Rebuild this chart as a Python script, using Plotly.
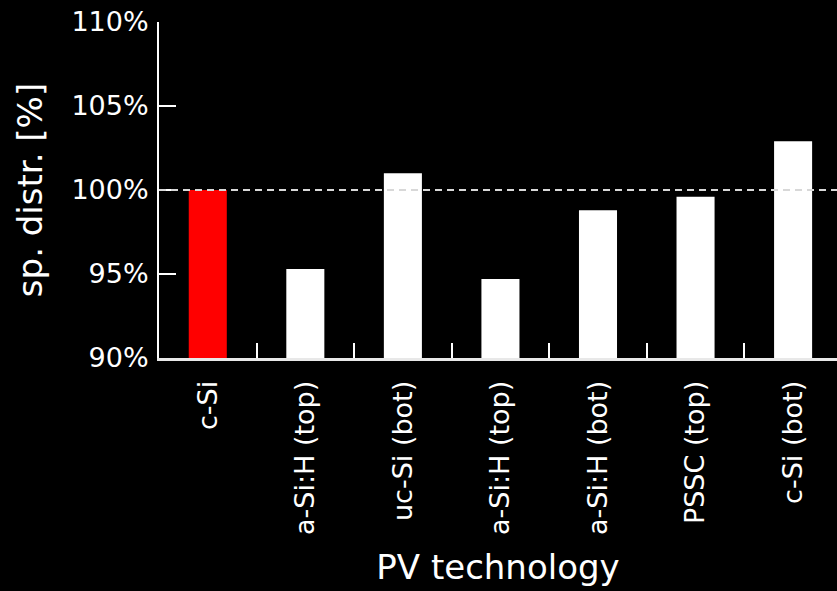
import plotly.graph_objects as go

categories = ["c-Si", "a-Si:H (top)", "uc-Si (bot)", "a-Si:H (top)", "a-Si:H (bot)", "PSSC (top)", "c-Si (bot)"]
cat_ids = ["c0", "c1", "c2", "c3", "c4", "c5", "c6"]
values = [100.0, 95.3, 101.0, 94.7, 98.8, 99.6, 102.9]
colors = ["#ff0000", "#ffffff", "#ffffff", "#ffffff", "#ffffff", "#ffffff", "#ffffff"]
ytick_vals = [90, 95, 100, 105, 110]
ytick_text = ["90%", "95%", "100%", "105%", "110%"]
reference_level = 100

FONT = "DejaVu Sans"

fig = go.Figure()
fig.add_trace(go.Bar(
    x=cat_ids, y=values,
    marker=dict(color=colors, line=dict(width=0)),
    width=0.39,
    showlegend=False,
    hoverinfo="skip",
))

fig.add_shape(type="line", xref="paper", yref="y", x0=0, x1=1,
              y0=reference_level, y1=reference_level,
              line=dict(color="#d8d8d8", width=2, dash="7px,5px"), layer="above")

fig.update_layout(
    width=837, height=591,
    paper_bgcolor="black", plot_bgcolor="black",
    margin=dict(l=159, r=0, t=22, b=233),
    font=dict(family=FONT, color="white"),
    bargap=0.6,
)

fig.update_xaxes(
    type="category",
    tickmode="array", tickvals=cat_ids, ticktext=categories,
    range=[-0.5, 6.45],
    tickson="boundaries",
    ticks="inside", ticklen=15, tickwidth=2, tickcolor="white",
    tickangle=-90,
    tickfont=dict(size=27, color="white", family=FONT),
    ticklabelstandoff=9,
    showline=True, linecolor="#e8e8e8", linewidth=3,
    showgrid=False, zeroline=False,
    title=dict(text="PV technology", font=dict(size=34, color="white", family=FONT), standoff=22),
)

fig.update_yaxes(
    range=[90, 110],
    tickmode="array", tickvals=ytick_vals, ticktext=ytick_text,
    ticks="inside", ticklen=17, tickwidth=2, tickcolor="white",
    tickfont=dict(size=27, color="white", family=FONT),
    ticklabelstandoff=3,
    showline=True, linecolor="white", linewidth=2,
    showgrid=False, zeroline=False,
    title=dict(text="sp. distr. [%]", font=dict(size=34, color="white", family=FONT), standoff=18),
)

fig.write_html(
    "out.html",
    config={"displayModeBar": False},
    post_script="document.body.style.margin='0';document.body.style.background='black';",
)
